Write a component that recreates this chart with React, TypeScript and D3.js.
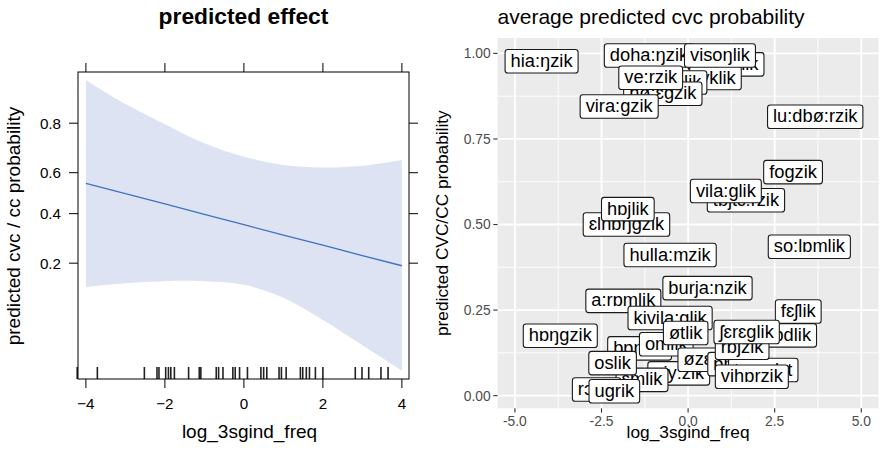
import React, { useEffect, useRef } from 'react';
import * as d3 from 'd3';

// left panel: effect plot (probabilities)
const effX = [-4, -3, -2, -1, 0, 1, 2, 3, 4];
const effFit = [0.549, 0.498, 0.447, 0.397, 0.349, 0.304, 0.263, 0.225, 0.192];
const effLower = [0.135, 0.144, 0.149, 0.149, 0.14, 0.112, 0.075, 0.047, 0.029];
const effUpper = [0.904, 0.854, 0.797, 0.729, 0.673, 0.636, 0.625, 0.633, 0.659];
const effXTicks = [-4, -2, 0, 2, 4];
const effYTicks = [0.2, 0.4, 0.6, 0.8];
const rugX = [
  -4.22, -3.71, -2.52, -2.2, -2.15, -1.98, -1.91, -1.85, -1.76, -1.4, -1.13, -1.09,
  -0.7, -0.64, -0.53, -0.28, -0.22, -0.11, 0.09, 0.43, 0.5, 0.58, 0.89, 0.95, 1.07,
  1.43, 1.49, 1.58, 1.66, 1.81, 2.0, 2.82, 2.99, 3.16, 3.47, 3.65,
];

// right panel: average predicted probability per item (drawing order)
const words = [
  'tyŋaonlik', 'doha:ŋzik', 'tyklik', 'bɒlik', 'visoŋlik', 'hø:ɛgzik', 've:rzik',
  'vira:gzik', 'hia:ŋzik', 'lu:dbø:rzik', 'fogzik', 'tɒjtɛ:rzik', 'vila:glik',
  'ɛlnɒŋgzik', 'hɒjlik', 'so:lɒmlik', 'hulla:mzik', 'burja:nzik', 'a:rɒmlik', 'fɛʃlik',
  'pɒdlik', 'kivila:glik', 'bɒnzik', 'omlik', 'ɒjy:zik', 'ɛmlik', 'oslik', 'rɔzik',
  'ugrik', 'hɒŋgzik', 'øzɛlik', 'ɒnlik', 'tørɛglɛt', 'rɒjzik', 'øtlik', 'ʃɛrɛglik',
  'vihɒrzik',
];
const wordX = [
  0.99, -1.13, 0.79, -0.16, 0.92, -0.73, -1.08, -1.99, -4.23, 3.67, 3.03, 1.67, 1.09,
  -1.78, -1.74, 3.5, -0.52, 0.56, -1.87, 3.18, 2.86, -0.52, -1.4, -0.63, -0.27, -1.33,
  -2.18, -2.64, -2.13, -3.69, 0.53, 1.27, 2.17, 1.56, -0.07, 1.69, 1.84,
];
const wordY = [
  0.968, 0.994, 0.928, 0.915, 0.994, 0.882, 0.929, 0.845, 0.977, 0.815, 0.653, 0.571,
  0.598, 0.5, 0.545, 0.435, 0.411, 0.314, 0.277, 0.246, 0.176, 0.227, 0.138, 0.15,
  0.065, 0.046, 0.095, 0.018, 0.013, 0.175, 0.105, 0.092, 0.075, 0.14, 0.183, 0.186,
  0.055,
];
const avgXTicks = [-5, -2.5, 0, 2.5, 5];
const avgYTicks = [0, 0.25, 0.5, 0.75, 1];

const font = 'Liberation Sans, Arial, Helvetica, sans-serif';
const logit = (p: number) => Math.log(p / (1 - p));

const App = () => {
  const svgRef = useRef<SVGSVGElement>(null);

  useEffect(() => {
    const svg = d3.select(svgRef.current);
    svg.selectAll('*').remove();
    svg.attr('font-family', font);

    // ---------- left: lattice style effect plot ----------
    const L = { left: 78, right: 409, top: 72, bottom: 379 };
    const xL = d3.scaleLinear().domain([-4.2, 4.18]).range([L.left, L.right]);
    const yL = d3.scaleLinear().domain([-3.68, 2.4]).range([L.bottom, L.top]);

    svg.append('text')
      .attr('x', (L.left + L.right) / 2).attr('y', 24)
      .attr('text-anchor', 'middle').attr('font-weight', 'bold').attr('font-size', 22.8)
      .text('predicted effect');

    svg.append('clipPath').attr('id', 'clipL').append('rect')
      .attr('x', L.left).attr('y', L.top)
      .attr('width', L.right - L.left).attr('height', L.bottom - L.top);

    const idx = d3.range(effX.length);
    const band = d3.area<number>()
      .x(i => xL(effX[i]))
      .y0(i => yL(logit(effLower[i])))
      .y1(i => yL(logit(effUpper[i])))
      .curve(d3.curveCatmullRom);
    const line = d3.line<number>()
      .x(i => xL(effX[i]))
      .y(i => yL(logit(effFit[i])));

    const gL = svg.append('g').attr('clip-path', 'url(#clipL)');
    gL.append('path').datum(idx).attr('d', band).attr('fill', '#dde3f3');
    gL.append('path').datum(idx).attr('d', line)
      .attr('fill', 'none').attr('stroke', '#3d72c4').attr('stroke-width', 1.3);

    svg.append('g').selectAll('line').data(rugX).join('line')
      .attr('x1', d => xL(d)).attr('x2', d => xL(d))
      .attr('y1', L.bottom - 12).attr('y2', L.bottom)
      .attr('stroke', '#222').attr('stroke-width', 1.6);

    svg.append('rect')
      .attr('x', L.left).attr('y', L.top)
      .attr('width', L.right - L.left).attr('height', L.bottom - L.top)
      .attr('fill', 'none').attr('stroke', '#000').attr('stroke-width', 1);

    const tickL = svg.append('g').attr('stroke', '#000').attr('stroke-width', 1);
    effXTicks.forEach(t => {
      tickL.append('line').attr('x1', xL(t)).attr('x2', xL(t)).attr('y1', L.top - 9).attr('y2', L.top);
      tickL.append('line').attr('x1', xL(t)).attr('x2', xL(t)).attr('y1', L.bottom).attr('y2', L.bottom + 9);
    });
    effYTicks.forEach(t => {
      const y = yL(logit(t));
      tickL.append('line').attr('x1', L.left - 9).attr('x2', L.left).attr('y1', y).attr('y2', y);
      tickL.append('line').attr('x1', L.right).attr('x2', L.right + 9).attr('y1', y).attr('y2', y);
    });

    svg.append('g').selectAll('text').data(effXTicks).join('text')
      .attr('x', d => xL(d)).attr('y', 409).attr('text-anchor', 'middle')
      .attr('font-size', 15.2).attr('fill', '#000')
      .text(d => (d < 0 ? '\u2212' + Math.abs(d) : String(d)));
    svg.append('g').selectAll('text').data(effYTicks).join('text')
      .attr('x', 61).attr('y', d => yL(logit(d)) + 5.5).attr('text-anchor', 'end')
      .attr('font-size', 15.2).attr('fill', '#000')
      .text(d => d.toFixed(1));

    svg.append('text')
      .attr('x', (L.left + L.right) / 2 + 6).attr('y', 438).attr('text-anchor', 'middle')
      .attr('font-size', 19).text('log_3sgind_freq');
    svg.append('text')
      .attr('transform', `translate(20,226) rotate(-90)`).attr('text-anchor', 'middle')
      .attr('font-size', 19).text('predicted cvc / cc probability');

    // ---------- right: ggplot style label plot ----------
    const R = { left: 497.6, right: 878.6, top: 38, bottom: 408.3 };
    const xR = d3.scaleLinear().domain([-5.5, 5.5]).range([R.left, R.right]);
    const yR = d3.scaleLinear().domain([-0.037, 1.045]).range([R.bottom, R.top]);

    svg.append('text')
      .attr('x', R.left).attr('y', 24).attr('font-size', 21).attr('fill', '#000')
      .text('average predicted cvc probability');

    svg.append('rect')
      .attr('x', R.left).attr('y', R.top)
      .attr('width', R.right - R.left).attr('height', R.bottom - R.top)
      .attr('fill', '#ebebeb');

    const mids = (a: number[]) => a.slice(1).map((v, i) => (v + a[i]) / 2);
    const grid = svg.append('g').attr('stroke', '#fff');
    mids(avgXTicks).forEach(t => {
      grid.append('line').attr('x1', xR(t)).attr('x2', xR(t)).attr('y1', R.top).attr('y2', R.bottom).attr('stroke-width', 0.9);
    });
    mids(avgYTicks).forEach(t => {
      grid.append('line').attr('x1', R.left).attr('x2', R.right).attr('y1', yR(t)).attr('y2', yR(t)).attr('stroke-width', 0.9);
    });
    avgXTicks.forEach(t => {
      grid.append('line').attr('x1', xR(t)).attr('x2', xR(t)).attr('y1', R.top).attr('y2', R.bottom).attr('stroke-width', 1.8);
    });
    avgYTicks.forEach(t => {
      grid.append('line').attr('x1', R.left).attr('x2', R.right).attr('y1', yR(t)).attr('y2', yR(t)).attr('stroke-width', 1.8);
    });

    const labels = svg.append('g');
    words.forEach((w, i) => {
      const cx = xR(wordX[i]);
      const cy = yR(wordY[i]);
      const g = labels.append('g');
      const rect = g.append('rect');
      const txt = g.append('text')
        .attr('x', cx).attr('y', cy + 5.6).attr('text-anchor', 'middle')
        .attr('font-size', 18.3).attr('fill', '#000').text(w);
      const tw = (txt.node() as SVGTextElement).getComputedTextLength();
      const bw = tw + 11;
      const bh = 23.5;
      rect.attr('x', cx - bw / 2).attr('y', cy - bh / 2)
        .attr('width', bw).attr('height', bh).attr('rx', 2.8)
        .attr('fill', '#fff').attr('stroke', '#1a1a1a').attr('stroke-width', 1.1);
    });

    const axR = svg.append('g');
    avgYTicks.forEach(t => {
      axR.append('line').attr('x1', R.left - 4.3).attr('x2', R.left).attr('y1', yR(t)).attr('y2', yR(t))
        .attr('stroke', '#333').attr('stroke-width', 1.1);
      axR.append('text').attr('x', R.left - 7).attr('y', yR(t) + 4.9).attr('text-anchor', 'end')
        .attr('font-size', 13.8).attr('fill', '#4d4d4d').text(t.toFixed(2));
    });
    avgXTicks.forEach(t => {
      axR.append('line').attr('x1', xR(t)).attr('x2', xR(t)).attr('y1', R.bottom).attr('y2', R.bottom + 4.3)
        .attr('stroke', '#333').attr('stroke-width', 1.1);
      axR.append('text').attr('x', xR(t)).attr('y', 426).attr('text-anchor', 'middle')
        .attr('font-size', 13.8).attr('fill', '#4d4d4d').text(t.toFixed(1));
    });

    svg.append('text')
      .attr('x', (R.left + R.right) / 2).attr('y', 438).attr('text-anchor', 'middle')
      .attr('font-size', 17.3).attr('fill', '#000').text('log_3sgind_freq');
    svg.append('text')
      .attr('transform', `translate(448,${(R.top + R.bottom) / 2}) rotate(-90)`)
      .attr('text-anchor', 'middle').attr('font-size', 17.3).attr('fill', '#000')
      .text('predicted CVC/CC probability');
  }, []);

  return (
    <svg
      ref={svgRef}
      width={881}
      height={454}
      style={{ position: 'absolute', left: 0, top: 0, background: '#fff' }}
    />
  );
};

export default App;
